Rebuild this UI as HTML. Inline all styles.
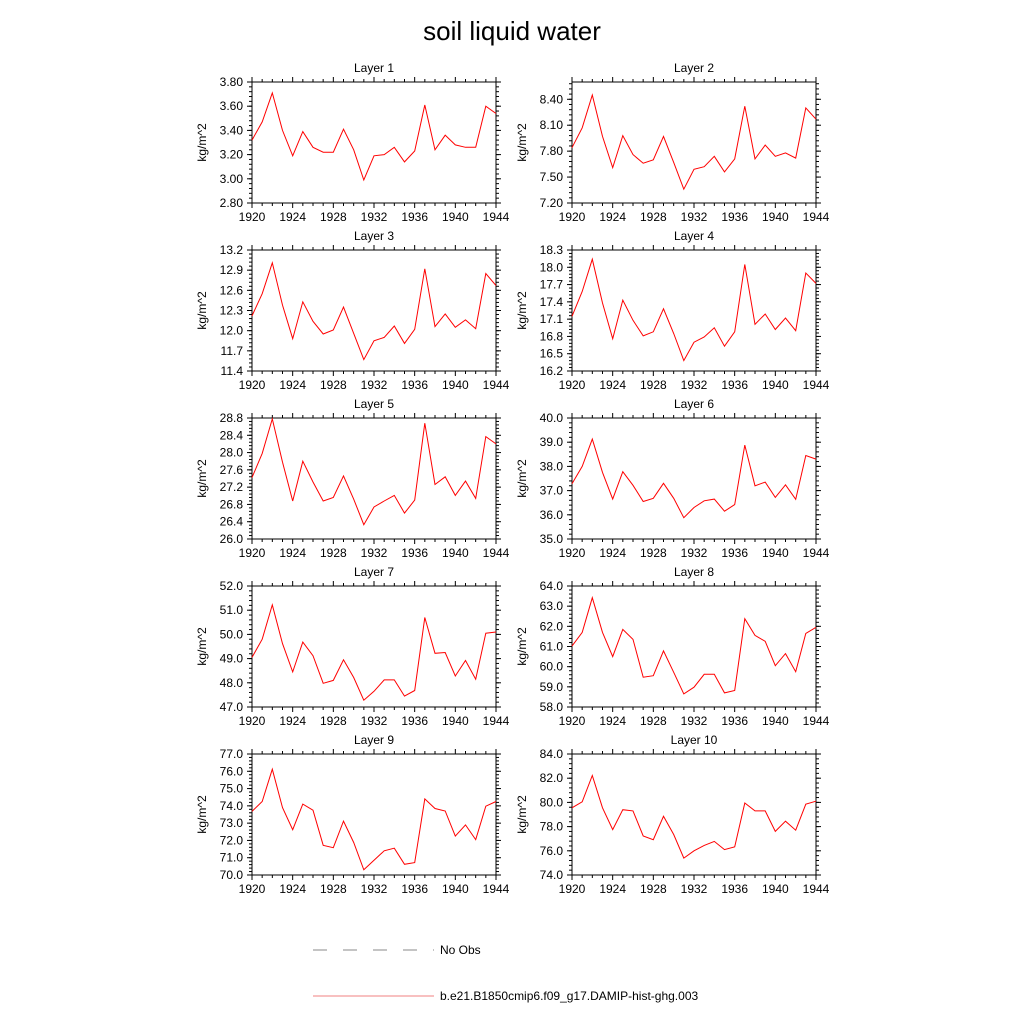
<!DOCTYPE html>
<html><head><meta charset="utf-8"><style>
body{margin:0;background:#fff;}
svg{display:block;font-family:"Liberation Sans",sans-serif;}
</style></head><body>
<svg id="chart" width="1024" height="1024" xmlns="http://www.w3.org/2000/svg">
<rect width="1024" height="1024" fill="#fff"/>
<text x="512" y="40" font-size="26" text-anchor="middle">soil liquid water</text>
<g>
<line x1="313" y1="950" x2="434" y2="950" stroke="#888" stroke-width="1" stroke-dasharray="14,16"/>
<text x="440" y="954" font-size="12">No Obs</text>
<line x1="313" y1="996" x2="434" y2="996" stroke="#f08080" stroke-width="1"/>
<text x="440" y="1000" font-size="12">b.e21.B1850cmip6.f09_g17.DAMIP-hist-ghg.003</text>
</g>
</svg>
<script>
const years = [1920,1921,1922,1923,1924,1925,1926,1927,1928,1929,1930,1931,1932,1933,1934,1935,1936,1937,1938,1939,1940,1941,1942,1943,1944];
const xTicks = [1920,1924,1928,1932,1936,1940,1944];
const layer1 = [3.32,3.47,3.71,3.40,3.19,3.39,3.26,3.22,3.22,3.41,3.24,2.99,3.19,3.20,3.26,3.14,3.23,3.61,3.24,3.36,3.28,3.26,3.26,3.60,3.54];
const layer2 = [7.84,8.07,8.45,7.97,7.61,7.98,7.76,7.66,7.70,7.97,7.67,7.36,7.59,7.62,7.74,7.56,7.71,8.32,7.71,7.87,7.74,7.78,7.72,8.30,8.17];
const layer3 = [12.22,12.55,13.01,12.38,11.88,12.43,12.14,11.95,12.01,12.35,11.96,11.57,11.85,11.90,12.07,11.81,12.02,12.92,12.06,12.25,12.05,12.16,12.03,12.85,12.67];
const layer4 = [17.15,17.58,18.14,17.38,16.76,17.43,17.08,16.81,16.88,17.28,16.85,16.38,16.70,16.79,16.95,16.63,16.88,18.05,17.01,17.19,16.92,17.12,16.90,17.90,17.72];
const layer5 = [27.42,27.98,28.78,27.78,26.88,27.80,27.32,26.88,26.96,27.46,26.92,26.33,26.74,26.88,27.01,26.60,26.90,28.68,27.26,27.44,27.01,27.34,26.94,28.37,28.20];
const layer6 = [37.28,38.00,39.13,37.75,36.65,37.78,37.22,36.55,36.68,37.30,36.68,35.88,36.30,36.58,36.65,36.15,36.42,38.88,37.20,37.35,36.72,37.24,36.64,38.45,38.30];
const layer7 = [49.05,49.80,51.22,49.62,48.45,49.68,49.12,47.98,48.10,48.95,48.22,47.28,47.65,48.12,48.12,47.45,47.68,50.70,49.22,49.25,48.28,48.92,48.15,50.05,50.10];
const layer8 = [61.02,61.70,63.42,61.70,60.50,61.85,61.35,59.48,59.55,60.78,59.72,58.65,58.98,59.62,59.62,58.70,58.82,62.38,61.55,61.26,60.05,60.65,59.75,61.65,61.95];
const layer9 = [73.68,74.25,76.12,73.90,72.62,74.10,73.75,71.72,71.58,73.12,71.88,70.30,70.85,71.40,71.55,70.62,70.72,74.40,73.85,73.70,72.25,72.90,72.05,73.98,74.25];
const layer10 = [79.55,80.05,82.22,79.55,77.75,79.40,79.30,77.22,76.92,78.85,77.35,75.40,76.00,76.45,76.78,76.10,76.32,79.95,79.30,79.30,77.60,78.45,77.70,79.85,80.10];
const yTicks1 = ["2.80","3.00","3.20","3.40","3.60","3.80"];
const yTicks2 = ["7.20","7.50","7.80","8.10","8.40"];
const yTicks3 = ["11.4","11.7","12.0","12.3","12.6","12.9","13.2"];
const yTicks4 = ["16.2","16.5","16.8","17.1","17.4","17.7","18.0","18.3"];
const yTicks5 = ["26.0","26.4","26.8","27.2","27.6","28.0","28.4","28.8"];
const yTicks6 = ["35.0","36.0","37.0","38.0","39.0","40.0"];
const yTicks7 = ["47.0","48.0","49.0","50.0","51.0","52.0"];
const yTicks8 = ["58.0","59.0","60.0","61.0","62.0","63.0","64.0"];
const yTicks9 = ["70.0","71.0","72.0","73.0","74.0","75.0","76.0","77.0"];
const yTicks10 = ["74.0","76.0","78.0","80.0","82.0","84.0"];
const yMin = [2.8,7.2,11.4,16.2,26.0,35,47,58,70,74];
const yMax = [3.8,8.6,13.2,18.3,28.8,40,52,64,77,84];

const series=[layer1,layer2,layer3,layer4,layer5,layer6,layer7,layer8,layer9,layer10];
const ticks=[yTicks1,yTicks2,yTicks3,yTicks4,yTicks5,yTicks6,yTicks7,yTicks8,yTicks9,yTicks10];
const svg=document.getElementById('chart');
const NS="http://www.w3.org/2000/svg";
function mk(tag,attrs,parent){const e=document.createElementNS(NS,tag);for(const k in attrs)e.setAttribute(k,attrs[k]);parent.appendChild(e);return e;}
const W=244,H=121;
for(let i=0;i<10;i++){
  const col=i%2,row=Math.floor(i/2);
  const L=col?572:252, T=82+row*168, R=L+W, B=T+H;
  const g=mk('g',{},svg);
  
  
  const xs=y=>L+(y-1920)/24*W;
  const ys=v=>B-(v-yMin[i])/(yMax[i]-yMin[i])*H;
  const fr=mk('rect',{x:L,y:T,width:W,height:H,fill:'none',stroke:'#000','stroke-width':1},g);
  
  
  const t=mk('text',{x:L+W/2,y:T-10,'font-size':12,'text-anchor':'middle'},g);
  t.textContent='Layer '+(i+1);
  
  
  // x ticks
  for(const y of years){
    const major=xTicks.includes(y);const len=major?5:3;const x=xs(y);
    mk('line',{x1:x,y1:B,x2:x,y2:B+len,stroke:'#000'},g);
    mk('line',{x1:x,y1:T,x2:x,y2:T-len,stroke:'#000'},g);
  }
  for(const y of xTicks){
    const tx=mk('text',{x:xs(y),y:B+18,'font-size':12,'text-anchor':'middle'},g);
    tx.textContent=y;
    
    
  }
  // y ticks
  const tk=ticks[i];const step=parseFloat(tk[1])-parseFloat(tk[0]);const minor=step/5;
  for(let v=yMin[i];v<=yMax[i]+1e-9;v+=minor){
    const yy=ys(v);
    mk('line',{x1:L,y1:yy,x2:L-3,y2:yy,stroke:'#000'},g);
    mk('line',{x1:R,y1:yy,x2:R+3,y2:yy,stroke:'#000'},g);
  }
  for(const s of tk){
    const yy=ys(parseFloat(s));
    mk('line',{x1:L,y1:yy,x2:L-5,y2:yy,stroke:'#000'},g);
    mk('line',{x1:R,y1:yy,x2:R+5,y2:yy,stroke:'#000'},g);
    const ty=mk('text',{x:L-9,y:yy+4,'font-size':12,'text-anchor':'end'},g);
    ty.textContent=s;
    
    
  }
  const yt=mk('text',{x:0,y:0,'font-size':12,'text-anchor':'middle',transform:`translate(${L-46},${T+H/2}) rotate(-90)`},g);
  yt.textContent='kg/m^2';
  
  
  const pts=series[i].map((v,j)=>xs(years[j]).toFixed(1)+','+ys(v).toFixed(1)).join(' ');
  const pl=mk('polyline',{points:pts,fill:'none',stroke:'#ff0000','stroke-width':1},g);
  
  
}
</script>
</body></html>
